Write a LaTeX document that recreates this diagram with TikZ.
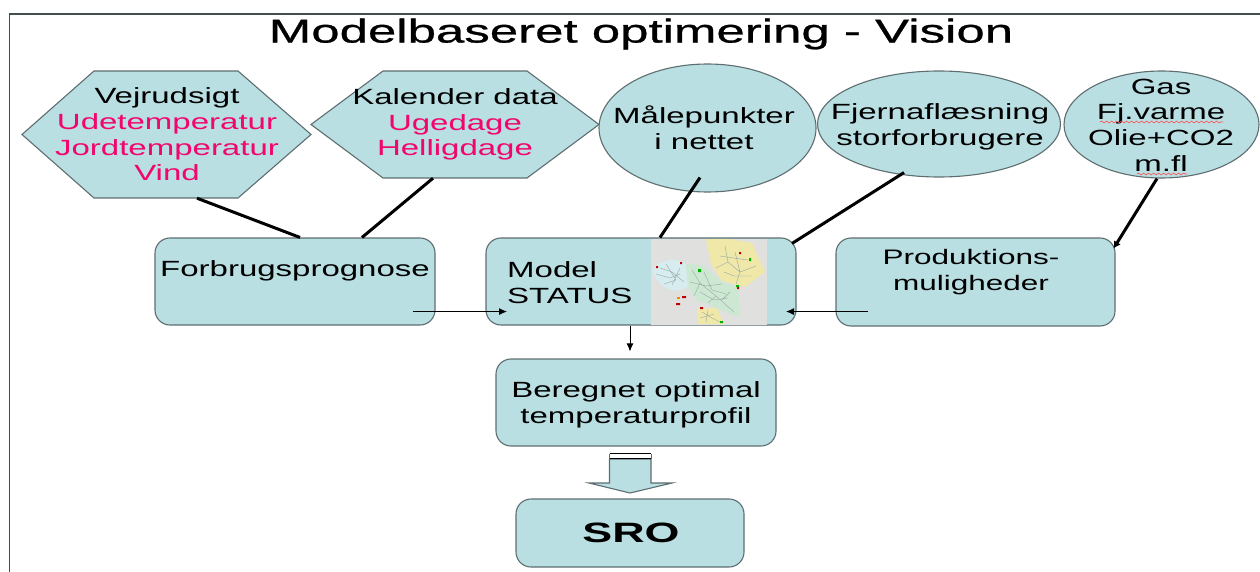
\documentclass[tikz,border=0pt]{standalone}
\usepackage{fontspec}
\setmainfont[FakeStretch=1.5]{Liberation Sans}
\newfontfamily\titlefont[FakeStretch=1.545,FakeBold=0.8]{Liberation Sans}
\newfontfamily\srofont[FakeStretch=1.6]{Liberation Sans}
\usetikzlibrary{arrows.meta,shapes.geometric,decorations.pathmorphing}
\definecolor{shapefill}{HTML}{B9DFE3}
\definecolor{edgegray}{HTML}{5E6E70}
\definecolor{pinktext}{HTML}{F2056C}
\definecolor{mapgray}{HTML}{E0E0DE}
\definecolor{mapyellow}{HTML}{EFE8A8}
\definecolor{mapblue}{HTML}{D6ECEF}
\definecolor{mapgreen}{HTML}{CDE8D2}
\definecolor{maproad}{HTML}{9AA8A8}
\tikzset{
  x=1pt,y=-1pt,
  outlined/.style={draw=edgegray,line width=1.1pt,fill=shapefill},
  roundbox/.style={outlined,rectangle,rounded corners=15pt,inner sep=0pt},
  oval/.style={outlined,ellipse,inner sep=0pt},
  area/.style={inner sep=0pt},
  label/.style={inner sep=0pt,align=center,font=\fontsize{22}{25.6}\selectfont,text=black},
  thick link/.style={line width=3pt,black},
  thin link/.style={line width=0.9pt,black,-{Latex[length=8pt,width=7pt]}},
  wavy/.style={draw=red!70!white,line width=0.6pt,decorate,decoration={snake,amplitude=0.9pt,segment length=5pt}},
}
\newcommand{\pk}[1]{\textcolor{pinktext}{#1}}
\begin{document}
\begin{tikzpicture}
\useasboundingbox (0,0) rectangle (1260,572);
\fill[white] (0,0) rectangle (1260,572);
% frame
\draw[edgegray!70!black,line width=1.2pt] (9.5,572) -- (9.5,14) -- (1260,14);
% hexagons
\draw[outlined] (22,134.5) -- (94,71) -- (238,71) -- (311,134.5) -- (238,198) -- (94,198) -- cycle;
\draw[outlined] (311,124.5) -- (383,71) -- (527,71) -- (599,124.5) -- (527,178) -- (383,178) -- cycle;
\node[area,minimum width=289pt,minimum height=127pt] (hexa) at (166.5,134.5) {};
\node[area,minimum width=288pt,minimum height=107pt] (hexb) at (455,124.5) {};
% ellipses
\node[oval,minimum width=217pt,minimum height=128pt] (malep) at (707.5,128) {};
\node[oval,minimum width=243pt,minimum height=106pt] (fjern) at (939,124) {};
\node[oval,minimum width=195pt,minimum height=107pt] (gas) at (1161.5,124.5) {};
% boxes
\node[roundbox,minimum width=280pt,minimum height=87pt] (forbrug) at (295,281.5) {};
\node[roundbox,minimum width=310pt,minimum height=87pt] (model) at (641,281.5) {};
\node[roundbox,minimum width=279pt,minimum height=88pt] (prod) at (975.5,282) {};
\node[roundbox,minimum width=280pt,minimum height=87pt] (beregnet) at (636,402.5) {};
\node[roundbox,minimum width=228pt,minimum height=68pt] (sro) at (630,533) {};
% map inside Model box
\fill[mapgray] (651,238.5) rectangle (767,325);
\fill[mapyellow] (706,239) -- (730,239) -- (752,243) -- (765,272) -- (745,287) -- (722,281) -- (711,264) -- cycle;
\fill[mapblue] (652,270) .. controls (660,258) and (678,258) .. (686,264) -- (688,287) .. controls (676,294) and (660,292) .. (652,270) -- cycle;
\fill[mapgreen] (686,264) -- (703,265) -- (722,282) -- (738,287) -- (740,318) -- (717,308) -- (697,300) -- (688,287) -- cycle;
\fill[mapyellow] (697,309) -- (717,308) -- (724,324) -- (698,324) -- cycle;
\draw[maproad,line width=0.4pt] (660,268) -- (672,272) -- (684,282) (666,264) -- (676,280) (672,285) -- (680,268) (656,274) -- (670,278) -- (680,274) (664,284) -- (676,280)
  (692,270) -- (700,283) -- (716,296) -- (734,312) (700,283) -- (694,296) (704,272) -- (712,290) -- (726,294) (716,296) -- (708,303) (690,282) -- (706,286) -- (722,284) (700,292) -- (714,300) -- (728,298) (722,300) -- (730,292)
  (725,246) -- (728,262) -- (740,272) -- (736,284) (728,262) -- (716,268) (740,272) -- (756,266) (735,252) -- (740,272) (720,256) -- (733,258) -- (748,260) (724,272) -- (734,276) -- (752,276)
  (702,312) -- (712,318) -- (720,322) (708,310) -- (706,322) (700,318) -- (714,314);
\fill[red!75!black] (680,262) rectangle +(2,2) (656,266) rectangle +(2,2) (739,252) rectangle +(2,2) (737,287) rectangle +(2,2) (700,307) rectangle +(3,2) (682,296) rectangle +(4,2) (676,303) rectangle +(4,2);
\fill[green!70!black] (698,269) rectangle +(3,3) (749,258) rectangle +(2,3) (736,285) rectangle +(3,2) (720,321) rectangle +(3,2);
\fill[orange] (677,297) rectangle +(3,2);
% thick connectors
\draw[thick link] ([xshift=30.5pt]hexa.south) -- ([xshift=5pt]forbrug.north);
\draw[thick link] ([xshift=-22pt]hexb.south) -- ([xshift=67pt]forbrug.north);
\draw[thick link] ([xshift=-7.5pt,yshift=15pt]malep.south) -- ([xshift=19pt]model.north);
\draw[thick link] ([xshift=-35pt,yshift=5pt]fjern.south) -- ([xshift=151pt,yshift=-6pt]model.north);
\draw[line width=3pt,black,-{Latex[length=7pt,width=8pt]}] ([xshift=-4.5pt]gas.south) -- ([xshift=-2pt,yshift=-11pt]prod.north east);
% thin connectors
\draw[thin link] ([xshift=118pt,yshift=14pt]forbrug.south) -- ([xshift=-134pt,yshift=14pt]model.south);
\draw[thin link] ([xshift=-107.5pt,yshift=15pt]prod.south) -- ([xshift=145pt,yshift=14pt]model.south);
\draw[thin link] ([xshift=-11pt]model.south) -- ([xshift=-6pt,yshift=7pt]beregnet.north);
% block arrow
\draw[outlined] (609.5,459) -- (609.5,483) -- (589,483) -- (630,493) -- (672,483) -- (651,483) -- (651,459) -- cycle;
\draw[black,line width=1pt] (609.5,453.5) -- (651,453.5);
\draw[black,line width=1pt] (609.5,458.5) -- (651,458.5);
\draw[edgegray,line width=0.8pt] (609.5,453.5) -- (609.5,459) (651,453.5) -- (651,459);
% title
\node[inner sep=0pt,font=\fontsize{33}{40}\selectfont\titlefont] (title) at (641,34) {Modelbaseret optimering - Vision};
% texts
\node[label] (thexa) at (167,134.5) {Vejrudsigt\\\pk{Udetemperatur}\\\pk{Jordtemperatur}\\\pk{Vind}};
\node[label] (thexb) at (455,124.5) {Kalender data\\\pk{Ugedage}\\\pk{Helligdage}};
\node[label] (tmal) at (704,128) {Målepunkter\\i nettet};
\node[label] (tfjern) at (940,127) {Fjernaflæsning\\storforbrugere};
\node[label] (tgas) at (1161,125) {Gas\\Fj.varme\\Olie+CO2\\m.fl};
\node[label] (tforbrug) at (295,271) {Forbrugsprognose};
\node[label,align=left,anchor=west] (tmodel) at (507,282.5) {Model\\STATUS};
\node[label,font=\fontsize{21}{25.6}\selectfont] (tprod) at (971,272) {Produktions-\\muligheder};
\node[label] (tberegnet) at (636,405) {Beregnet optimal\\temperaturprofil};
\node[inner sep=0pt,font=\fontsize{28}{32}\srofont\bfseries] (tsro) at (631,533) {SRO};
% spell-check underlines
\draw[wavy] (1100,122) -- (1223,122);
\draw[wavy] (1137,174) -- (1187,174);
\end{tikzpicture}
\end{document}
